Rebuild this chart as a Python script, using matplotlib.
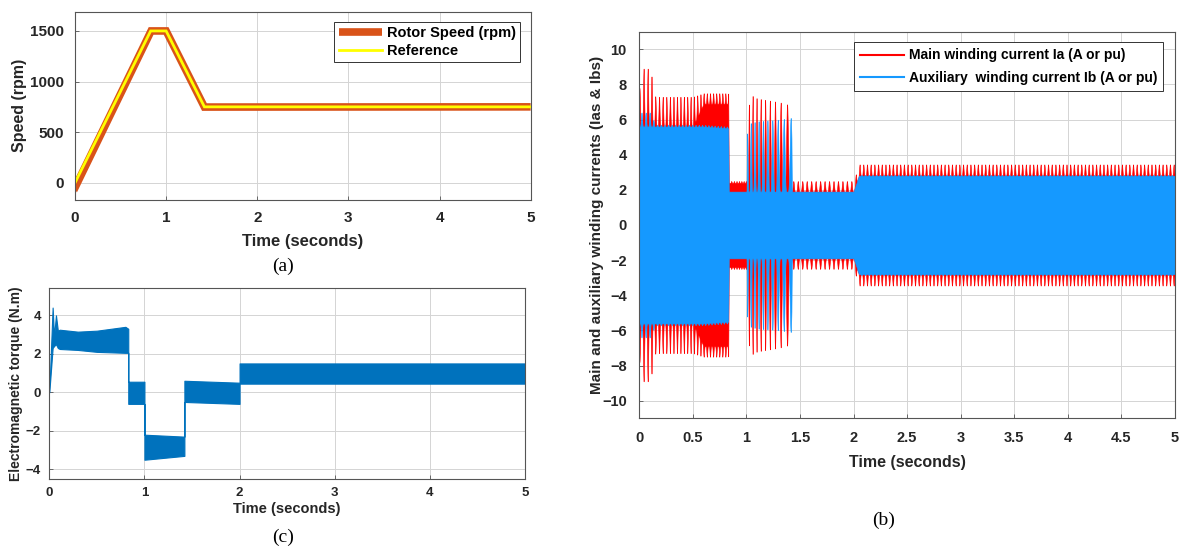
import numpy as np
import matplotlib
matplotlib.use("Agg")
import matplotlib.pyplot as plt

# (a) speed profile, rpm
ref_t = [0, 0.83, 1.0, 1.42, 5]
ref_rpm = [0, 1500, 1500, 750, 750]
rotor_t = [0, 0.015, 0.835, 1.0, 1.42, 5]
rotor_rpm = [0, -20, 1500, 1500, 748, 750]

# (c) electromagnetic torque band (upper / lower edge), N.m
tq_t = [0, 0.035, 0.05, 0.07, 0.09, 0.11, 0.3, 0.5, 0.8, 0.83, 0.83, 1.0, 1.0, 1.42, 1.42, 2.0, 2.0, 5]
tq_hi = [0, 4.4, 2.9, 4.0, 3.2, 3.25, 3.15, 3.2, 3.4, 3.3, 0.55, 0.55, -2.2, -2.3, 0.6, 0.5, 1.5, 1.5]
tq_lo = [0, 2.3, 2.4, 2.5, 2.3, 2.25, 2.2, 2.1, 2.05, 2.05, -0.6, -0.6, -3.5, -3.3, -0.5, -0.6, 0.45, 0.45]

# (b) winding currents: solid band level and spike peaks (A), spike rate (Hz)
env_t = [0, 0.02, 0.1, 0.15, 0.5, 0.6, 0.83, 0.835, 1.0, 1.005, 1.04, 1.1, 1.3, 1.42, 1.425, 2.0, 2.05, 5]
ia_base = [5.6, 5.6, 5.6, 5.6, 5.6, 6.9, 6.9, 2.4, 2.4, 1.9, 1.9, 1.9, 1.9, 1.9, 1.9, 1.9, 2.8, 2.8]
ia_peak = [7.8, 8.9, 8.9, 7.3, 7.3, 7.5, 7.5, 2.5, 2.5, 6.3, 7.4, 7.2, 7.0, 6.8, 2.5, 2.5, 3.45, 3.45]
ib_base = [5.6, 5.6, 5.6, 5.6, 5.6, 5.6, 5.5, 1.9, 1.9, 1.9, 1.9, 1.9, 1.9, 1.9, 1.9, 1.9, 2.8, 2.8]
ib_peak = [6.4, 6.4, 6.4, 5.7, 5.7, 5.7, 5.6, 1.9, 1.9, 5.2, 5.8, 5.9, 6.0, 6.1, 1.9, 1.9, 2.85, 2.85]
spike_t = [0, 0.1, 0.83, 1.0, 1.005, 1.42, 1.425, 2.0, 2.05, 5]
spike_hz = [24, 28, 36, 50, 30, 14, 24, 24, 29, 29]

TXT = "#262626"
SANS = ["Liberation Sans", "DejaVu Sans"]
NARROW = ["Liberation Sans Narrow", "Liberation Sans", "DejaVu Sans"]
RED = "#FF0000"
BLUE = "#1599FF"


def matlab_style(ax, fs, family, pad=6):
    ax.grid(True, color="#d4d4d4", linewidth=0.7)
    ax.set_axisbelow(True)
    for sp in ax.spines.values():
        sp.set_color("#555555")
        sp.set_linewidth(0.8)
    ax.tick_params(direction="in", length=3, width=0.6, color="#555555",
                   labelcolor=TXT, pad=pad)
    for lab in ax.get_xticklabels() + ax.get_yticklabels():
        lab.set_fontsize(fs)
        lab.set_fontweight("bold")
        lab.set_family(family)


def spiky_envelope(t, base, peak, phase, shift):
    # solid band up to `base`, narrow spikes up to `peak` once per cycle
    comb = np.abs(np.cos(phase / 2 + shift)) ** 6
    return base + (peak - base) * comb


fig = plt.figure(figsize=(11.85, 5.5), dpi=100)

# ---- (a) speed
ax_a = fig.add_axes([0.0633, 0.6364, 0.3845, 0.3423])
ax_a.plot(rotor_t, rotor_rpm, color="#D95319", lw=5.5, label="Rotor Speed (rpm)",
          solid_joinstyle="miter", solid_capstyle="butt")
ax_a.plot(ref_t, ref_rpm, color="#FFFF00", lw=2, label="Reference",
          solid_joinstyle="miter")
ax_a.set_xlim(0, 5)
ax_a.set_ylim(-170, 1690)
ax_a.set_xticks(range(6))
ax_a.set_yticks([0, 500, 1000, 1500])
matlab_style(ax_a, 11, SANS, pad=8)
ax_a.set_xlabel("Time (seconds)", fontsize=12, fontweight="bold", family=SANS, color=TXT)
ax_a.set_ylabel("Speed (rpm)", fontsize=11.5, fontweight="bold", family=SANS, color=TXT)
ax_a.xaxis.set_label_coords(0.5, -0.18)
ax_a.yaxis.set_label_coords(-0.105, 0.5)
leg = ax_a.legend(loc="upper right", bbox_to_anchor=(0.977, 0.945), borderaxespad=0,
                  fancybox=False, framealpha=1, edgecolor="#333333", handlelength=3.0,
                  borderpad=0.3, labelspacing=0.25, handletextpad=0.3,
                  prop={"family": SANS, "weight": "bold", "size": 10.5})
leg.get_frame().set_linewidth(0.7)

# ---- (c) torque
ax_c = fig.add_axes([0.0416, 0.1291, 0.4014, 0.3467])
ax_c.fill_between(tq_t, tq_lo, tq_hi, color="#0072BD", lw=0.8, edgecolor="#0072BD")
ax_c.set_xlim(0, 5)
ax_c.set_ylim(-4.5, 5.4)
ax_c.set_xticks(range(6))
ax_c.set_yticks([-4, -2, 0, 2, 4])
matlab_style(ax_c, 9.5, SANS)
ax_c.set_xlabel("Time (seconds)", fontsize=10.5, fontweight="bold", family=SANS, color=TXT)
ax_c.set_ylabel("Electromagnetic torque (N.m)", fontsize=10, fontweight="bold",
                family=SANS, color=TXT)
ax_c.xaxis.set_label_coords(0.5, -0.12)
ax_c.yaxis.set_label_coords(-0.055, 0.5)

# ---- (b) currents
t = np.linspace(0, 5, 20001)
f = np.interp(t, spike_t, spike_hz)
phase = 2 * np.pi * np.cumsum(f) * (t[1] - t[0])
ia_env = spiky_envelope(t, np.interp(t, env_t, ia_base), np.interp(t, env_t, ia_peak), phase, 0)
ib_env = spiky_envelope(t, np.interp(t, env_t, ib_base), np.interp(t, env_t, ib_peak), phase, np.pi / 2)

ax_b = fig.add_axes([0.5395, 0.2395, 0.4521, 0.7029])
ax_b.fill_between(t, -ia_env, ia_env, color=RED, lw=0.4, edgecolor=RED)
ax_b.fill_between(t, -ib_env, ib_env, color=BLUE, lw=0.4, edgecolor=BLUE)
ax_b.plot([], [], color=RED, lw=1.5, label="Main winding current Ia (A or pu)")
ax_b.plot([], [], color=BLUE, lw=1.5, label="Auxiliary  winding current Ib (A or pu)")
ax_b.set_xlim(0, 5)
ax_b.set_ylim(-11, 11)
ax_b.set_xticks(np.arange(0, 5.01, 0.5))
ax_b.set_xticklabels(["0", "0.5", "1", "1.5", "2", "2.5", "3", "3.5", "4", "4.5", "5"])
ax_b.set_yticks(range(-10, 11, 2))
matlab_style(ax_b, 10.5, NARROW, pad=9)
ax_b.set_xlabel("Time (seconds)", fontsize=11.5, fontweight="bold", family=NARROW, color=TXT)
ax_b.set_ylabel("Main and auxiliary winding currents (Ias & Ibs)", fontsize=11,
                fontweight="bold", family=SANS, color=TXT)
ax_b.xaxis.set_label_coords(0.5, -0.095)
ax_b.yaxis.set_label_coords(-0.066, 0.5)
leg = ax_b.legend(loc="upper right", bbox_to_anchor=(0.978, 0.973), borderaxespad=0,
                  fancybox=False, framealpha=1, edgecolor="#333333", handlelength=3.2,
                  borderpad=0.45, labelspacing=0.6, handletextpad=0.3,
                  prop={"family": SANS, "weight": "bold", "size": 10})
leg.get_frame().set_linewidth(0.7)

# captions
fig.text(283 / 1185, 1 - 266 / 550, "(a)", ha="center", va="center",
         family="Liberation Serif", fontsize=14)
fig.text(283 / 1185, 1 - 537 / 550, "(c)", ha="center", va="center",
         family="Liberation Serif", fontsize=14)
fig.text(884 / 1185, 1 - 520 / 550, "(b)", ha="center", va="center",
         family="Liberation Serif", fontsize=14)

fig.savefig("out.png", dpi=100)
